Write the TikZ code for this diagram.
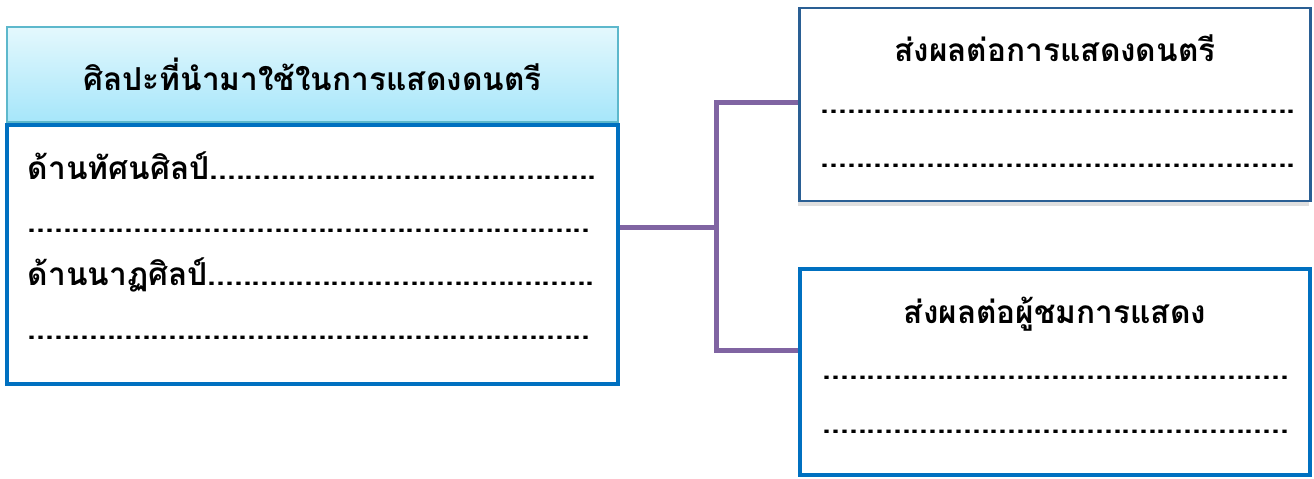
\documentclass[tikz,border=0pt]{standalone}
\usepackage{fontspec}
\newfontfamily\thaifont[Script=Thai]{Loma}
\usetikzlibrary{positioning,shadows}
\definecolor{boxblue}{HTML}{0070C0}
\definecolor{linkpurple}{HTML}{8064A2}
\definecolor{headtop}{HTML}{E4F8FD}
\definecolor{headbot}{HTML}{A6E6FA}
\definecolor{headrim}{HTML}{5DB8CC}
\definecolor{darkrim}{HTML}{2A5F94}
\tikzset{
every picture/.style={
line width=1pt
}}

\begin{document}
\begin{tikzpicture}[x=0.02cm,y=-0.02cm,
  font=\thaifont\bfseries\fontsize{18}{22}\selectfont,
  head/.style={draw=headrim, line width=0.03cm, top color=headtop, bottom color=headbot,
    minimum width=12.22cm, minimum height=1.9cm, inner sep=0pt},
  body/.style={draw=boxblue, line width=0.08cm, minimum width=12.22cm, minimum height=5.18cm},
  topbox/.style={draw=darkrim, line width=0.045cm, fill=white, minimum width=10.22cm, minimum height=3.86cm,
    drop shadow={shadow xshift=-1pt, shadow yshift=-3pt, opacity=0.25}},
  botbox/.style={draw=boxblue, line width=0.08cm, minimum width=10.22cm, minimum height=4.14cm},
  txt/.style={anchor=base west, inner sep=0pt},
  title/.style={anchor=base, inner sep=0pt},
  link/.style={draw=linkpurple, line width=0.1cm}]

\useasboundingbox (0,0) rectangle (1314,479);

% left side
\node[head] (head) at (312.5,74.5) {ศิลปะที่นำมาใช้ในการแสดงดนตรี};
\node[body, below=0pt of head] (body) {};
\node[txt] (visual) at (27,180) {ด้านทัศนศิลป์............................................};
\node[txt] (blank1) at (27,233) {................................................................};
\node[txt] (dance) at (27,286) {ด้านนาฏศิลป์............................................};
\node[txt] (blank2) at (27,339) {................................................................};

% right side
\node[topbox] (music) at (1055,104.5) {};
\node[title] (musict) at (1055,62) {ส่งผลต่อการแสดงดนตรี};
\node[txt] (music1) at (820,114) {......................................................};
\node[txt] (music2) at (820,168) {......................................................};

\node[botbox] (crowd) at (1055,372) {};
\node[title] (crowdt) at (1055,323) {ส่งผลต่อผู้ชมการแสดง};
\node[txt] (crowd1) at (822,379) {.....................................................};
\node[txt] (crowd2) at (822,433) {.....................................................};

% bracket
\coordinate (hub) at (716,228);
\coordinate (hubtop) at (716,103);
\coordinate (hubbot) at (716,350);
\draw[link] (body.east |- hub) -- (hub);
\draw[link] (hubtop -| music.west) -- (hubtop) -- (hubbot) -- (hubbot -| crowd.west);
\end{tikzpicture}
\end{document}
